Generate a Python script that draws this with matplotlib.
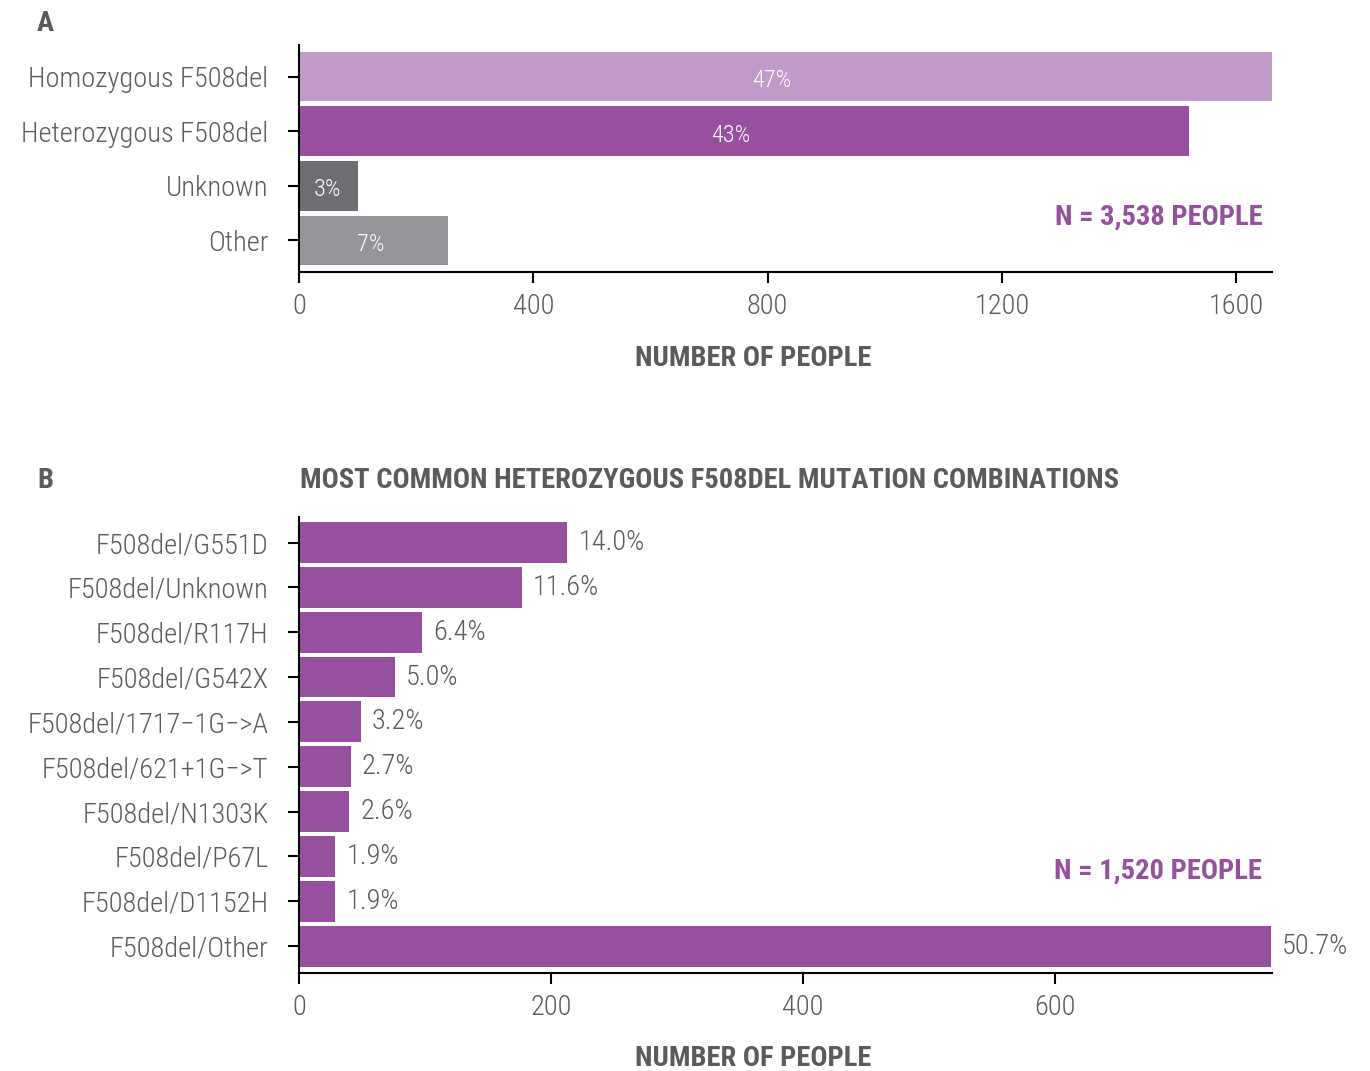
import matplotlib
matplotlib.use("Agg")
from matplotlib import pyplot as plt

plt.rcParams["font.family"] = ["Roboto Condensed", "DejaVu Sans"]
plt.rcParams["font.weight"] = 300

# Panel A data
groups = ["Homozygous F508del", "Heterozygous F508del", "Unknown", "Other"]
group_counts = [1663, 1520, 101, 254]
group_pcts = ["47%", "43%", "3%", "7%"]
group_colors = ["#C09AC8", "#96509E", "#6D6E71", "#939598"]
group_ticks = [0, 400, 800, 1200, 1600]

# Panel B data
combos = [
    "F508del/G551D",
    "F508del/Unknown",
    "F508del/R117H",
    "F508del/G542X",
    "F508del/1717\u22121G\u2212>A",
    "F508del/621+1G\u2212>T",
    "F508del/N1303K",
    "F508del/P67L",
    "F508del/D1152H",
    "F508del/Other",
]
combo_counts = [213, 177, 98, 76, 49, 41, 40, 29, 29, 771]
combo_pcts = ["14.0%", "11.6%", "6.4%", "5.0%", "3.2%", "2.7%", "2.6%", "1.9%", "1.9%", "50.7%"]
combo_ticks = [0, 200, 400, 600]

PURPLE = "#96509E"
GREY_TEXT = "#5B5B5D"
FS = 20.5

fig = plt.figure(figsize=(13.7, 10.71), dpi=100)
ax1 = fig.add_axes([0.2182, 0.746, 0.7103, 0.212])
ax2 = fig.add_axes([0.2182, 0.0915, 0.7103, 0.4258])


def style_axis(ax):
    for side in ["top", "right"]:
        ax.spines[side].set_visible(False)
    for side in ["left", "bottom"]:
        ax.spines[side].set_linewidth(1.5)
        ax.spines[side].set_color("black")
    ax.tick_params(axis="both", length=8, width=1.5, color="black",
                   labelcolor=GREY_TEXT, labelsize=FS)
    ax.tick_params(axis="x", pad=7)
    ax.tick_params(axis="y", pad=14)


# ---- Panel A ----
y1 = range(len(groups))
ax1.barh(y1, group_counts, height=0.91, color=group_colors)
ax1.set_yticks(list(y1))
ax1.set_yticklabels(groups)
ax1.set_ylim(3.58, -0.58)
ax1.set_xlim(0, 1661)
ax1.set_xticks(group_ticks)
style_axis(ax1)
for i, (c, p) in enumerate(zip(group_counts, group_pcts)):
    ax1.text(c / 2 * 0.97, i + 0.07, p, ha="center", va="center",
             color="white", fontsize=17.5)
ax1.text(0.99, 0.242, "N = 3,538 PEOPLE", transform=ax1.transAxes,
         ha="right", va="center", color=PURPLE, fontsize=FS, fontweight="bold")
ax1.set_xlabel("NUMBER OF PEOPLE", fontsize=FS, fontweight="bold", color=GREY_TEXT)
ax1.xaxis.set_label_coords(0.467, -0.32)

# ---- Panel B ----
y2 = range(len(combos))
ax2.barh(y2, combo_counts, height=0.91, color=PURPLE)
ax2.set_yticks(list(y2))
ax2.set_yticklabels(combos)
ax2.set_ylim(9.6, -0.57)
ax2.set_xlim(0, 772)
ax2.set_xticks(combo_ticks)
style_axis(ax2)
for i, (c, p) in enumerate(zip(combo_counts, combo_pcts)):
    ax2.annotate(p, (c, i), xytext=(8, 0), textcoords="offset points",
                 ha="left", va="center", color=GREY_TEXT, fontsize=FS,
                 annotation_clip=False)
ax2.text(0.99, 0.224, "N = 1,520 PEOPLE", transform=ax2.transAxes,
         ha="right", va="center", color=PURPLE, fontsize=FS, fontweight="bold")
ax2.set_xlabel("NUMBER OF PEOPLE", fontsize=FS, fontweight="bold", color=GREY_TEXT)
ax2.xaxis.set_label_coords(0.467, -0.158)

# panel letters and title
fig.text(0.027, 0.9776, "A", fontsize=FS, fontweight="bold", color=GREY_TEXT,
         ha="left", va="center")
fig.text(0.027, 0.5518, "B", fontsize=FS, fontweight="bold", color=GREY_TEXT,
         ha="left", va="center")
fig.text(0.219, 0.5509, "MOST COMMON HETEROZYGOUS F508DEL MUTATION COMBINATIONS",
         fontsize=FS, fontweight="bold", color=GREY_TEXT, ha="left", va="center")

fig.savefig("out.png", dpi=100)
